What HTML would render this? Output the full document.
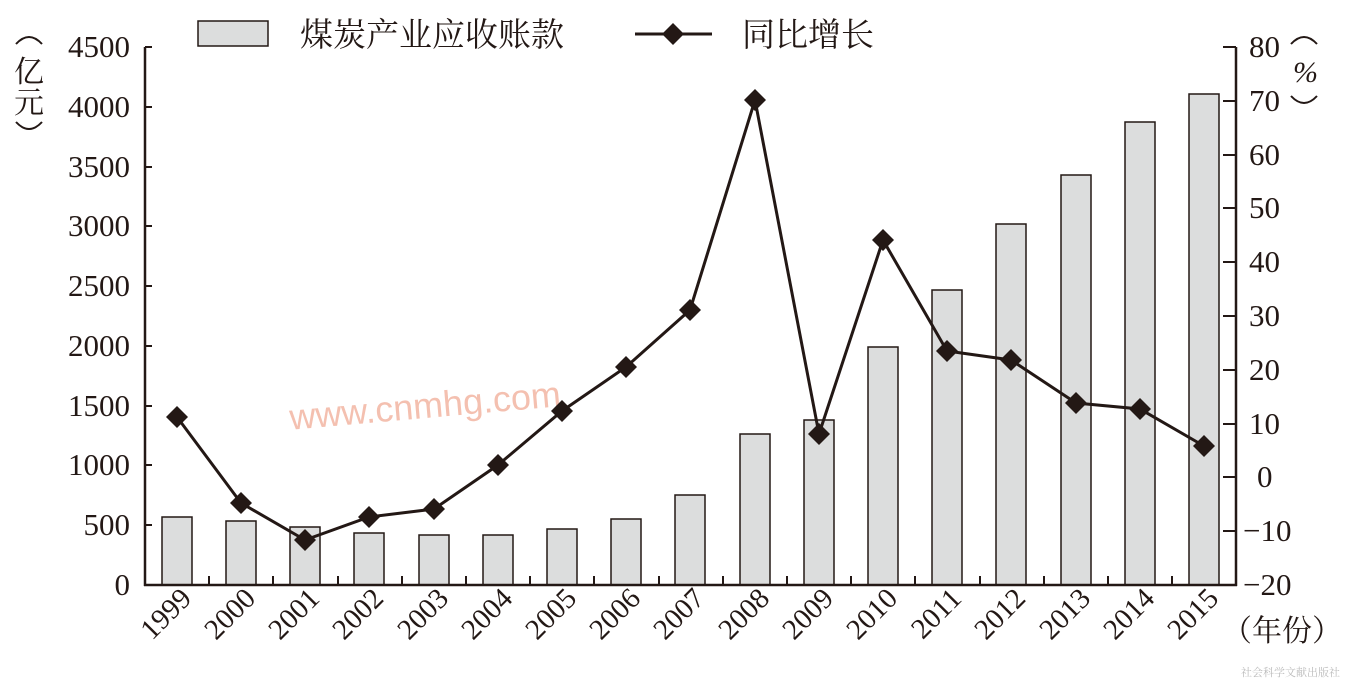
<!DOCTYPE html>
<html><head><meta charset="utf-8"><style>
html,body{margin:0;padding:0;background:#fff;}
svg{display:block;}
text{font-family:"Liberation Serif","Noto Serif CJK SC",serif;fill:#231815;}
</style></head><body>
<svg width="1346" height="681" viewBox="0 0 1346 681" xmlns="http://www.w3.org/2000/svg">
<g id="bars" fill="#dcdddd" stroke="#231815" stroke-width="1.5">
<rect x="162" y="517" width="30" height="68"/>
<rect x="226" y="521" width="30" height="64"/>
<rect x="290" y="527" width="30" height="58"/>
<rect x="354" y="533" width="30" height="52"/>
<rect x="419" y="535" width="30" height="50"/>
<rect x="483" y="535" width="30" height="50"/>
<rect x="547" y="529" width="30" height="56"/>
<rect x="611" y="519" width="30" height="66"/>
<rect x="675" y="495" width="30" height="90"/>
<rect x="740" y="434" width="30" height="151"/>
<rect x="804" y="420" width="30" height="165"/>
<rect x="868" y="347" width="30" height="238"/>
<rect x="932" y="290" width="30" height="295"/>
<rect x="996" y="224" width="30" height="361"/>
<rect x="1061" y="175" width="30" height="410"/>
<rect x="1125" y="122" width="30" height="463"/>
<rect x="1189" y="94" width="30" height="491"/>
</g>
<text x="425" y="418" font-size="36" style="fill:#f4c0b0;font-family:'Liberation Sans',sans-serif" transform="rotate(-5 425 405)" text-anchor="middle">www.cnmhg.com</text>
<g stroke="#231815" stroke-width="2.5" fill="none">
<line x1="145" y1="47" x2="145" y2="586"/>
<line x1="1236" y1="47" x2="1236" y2="586"/>
<line x1="144" y1="585" x2="1237" y2="585"/>
</g>
<g stroke="#231815" stroke-width="2">
<line x1="145" y1="47" x2="152" y2="47"/><line x1="145" y1="107" x2="152" y2="107"/><line x1="145" y1="167" x2="152" y2="167"/><line x1="145" y1="226" x2="152" y2="226"/><line x1="145" y1="286" x2="152" y2="286"/><line x1="145" y1="346" x2="152" y2="346"/><line x1="145" y1="406" x2="152" y2="406"/><line x1="145" y1="465" x2="152" y2="465"/><line x1="145" y1="525" x2="152" y2="525"/>
<line x1="1223" y1="47" x2="1236" y2="47"/><line x1="1223" y1="101" x2="1236" y2="101"/><line x1="1223" y1="155" x2="1236" y2="155"/><line x1="1223" y1="208" x2="1236" y2="208"/><line x1="1223" y1="262" x2="1236" y2="262"/><line x1="1223" y1="316" x2="1236" y2="316"/><line x1="1223" y1="370" x2="1236" y2="370"/><line x1="1223" y1="424" x2="1236" y2="424"/><line x1="1223" y1="477" x2="1236" y2="477"/><line x1="1223" y1="531" x2="1236" y2="531"/>
<line x1="209" y1="585" x2="209" y2="576"/><line x1="273" y1="585" x2="273" y2="576"/><line x1="338" y1="585" x2="338" y2="576"/><line x1="402" y1="585" x2="402" y2="576"/><line x1="466" y1="585" x2="466" y2="576"/><line x1="530" y1="585" x2="530" y2="576"/><line x1="594" y1="585" x2="594" y2="576"/><line x1="659" y1="585" x2="659" y2="576"/><line x1="723" y1="585" x2="723" y2="576"/><line x1="787" y1="585" x2="787" y2="576"/><line x1="851" y1="585" x2="851" y2="576"/><line x1="915" y1="585" x2="915" y2="576"/><line x1="980" y1="585" x2="980" y2="576"/><line x1="1044" y1="585" x2="1044" y2="576"/><line x1="1108" y1="585" x2="1108" y2="576"/><line x1="1172" y1="585" x2="1172" y2="576"/>
</g>
<polyline fill="none" stroke="#231815" stroke-width="3" points="177,417 241,503 305,540 369,517 434,509 498,465 562,411 626,367 690,310 755,100 819,434 883,240 947,351 1011,360 1076,403 1140,409 1204,446"/>
<g fill="#231815">
<path d="M177,406l11,11l-11,11l-11,-11z"/><path d="M241,492l11,11l-11,11l-11,-11z"/><path d="M305,529l11,11l-11,11l-11,-11z"/><path d="M369,506l11,11l-11,11l-11,-11z"/><path d="M434,498l11,11l-11,11l-11,-11z"/><path d="M498,454l11,11l-11,11l-11,-11z"/><path d="M562,400l11,11l-11,11l-11,-11z"/><path d="M626,356l11,11l-11,11l-11,-11z"/><path d="M690,299l11,11l-11,11l-11,-11z"/><path d="M755,89l11,11l-11,11l-11,-11z"/><path d="M819,423l11,11l-11,11l-11,-11z"/><path d="M883,229l11,11l-11,11l-11,-11z"/><path d="M947,340l11,11l-11,11l-11,-11z"/><path d="M1011,349l11,11l-11,11l-11,-11z"/><path d="M1076,392l11,11l-11,11l-11,-11z"/><path d="M1140,398l11,11l-11,11l-11,-11z"/><path d="M1204,435l11,11l-11,11l-11,-11z"/>
</g>
<g font-size="31" text-anchor="end">
<text x="130" y="57">4500</text><text x="130" y="117">4000</text><text x="130" y="177">3500</text><text x="130" y="236">3000</text><text x="130" y="296">2500</text><text x="130" y="356">2000</text><text x="130" y="416">1500</text><text x="130" y="475">1000</text><text x="130" y="535">500</text><text x="130" y="595">0</text>
</g>
<g font-size="31" text-anchor="start">
<text x="1249" y="57">80</text><text x="1249" y="111">70</text><text x="1249" y="165">60</text><text x="1249" y="218">50</text><text x="1249" y="272">40</text><text x="1249" y="326">30</text><text x="1249" y="380">20</text><text x="1249" y="434">10</text><text x="1257" y="487">0</text><text x="1243" y="541">−10</text><text x="1243" y="595">−20</text>
</g>
<g font-size="29" text-anchor="end">
<text transform="translate(193,600) rotate(-45)">1999</text><text transform="translate(257,600) rotate(-45)">2000</text><text transform="translate(321,600) rotate(-45)">2001</text><text transform="translate(385,600) rotate(-45)">2002</text><text transform="translate(450,600) rotate(-45)">2003</text><text transform="translate(514,600) rotate(-45)">2004</text><text transform="translate(578,600) rotate(-45)">2005</text><text transform="translate(642,600) rotate(-45)">2006</text><text transform="translate(706,600) rotate(-45)">2007</text><text transform="translate(771,600) rotate(-45)">2008</text><text transform="translate(835,600) rotate(-45)">2009</text><text transform="translate(899,600) rotate(-45)">2010</text><text transform="translate(963,600) rotate(-45)">2011</text><text transform="translate(1027,600) rotate(-45)">2012</text><text transform="translate(1092,600) rotate(-45)">2013</text><text transform="translate(1156,600) rotate(-45)">2014</text><text transform="translate(1220,600) rotate(-45)">2015</text>
</g>
<g fill="none" stroke="#231815" stroke-width="2">
<path d="M16,44 Q29,30 42,44"/><path d="M16,122 Q29,136 42,122"/>
<path d="M1291,44 Q1304,30 1317,44"/><path d="M1291,96 Q1304,110 1317,96"/>
</g>
<g font-size="30">
<text x="1222" y="641">（年份）</text>
<text x="14" y="82">亿</text><text x="14" y="113">元</text>
<text x="1293" y="82" font-style="italic">%</text>
</g>
<g font-size="33">
<text x="300" y="46">煤炭产业应收账款</text>
<text x="742" y="46">同比增长</text>
</g>
<rect x="198" y="21" width="70" height="25" fill="#dcdddd" stroke="#231815" stroke-width="1.5"/>
<line x1="635" y1="34" x2="712" y2="34" stroke="#231815" stroke-width="3"/>
<path d="M673,23l11,11l-11,11l-11,-11z" fill="#231815"/>
<text x="1340" y="676" font-size="11" text-anchor="end" style="fill:#bbb">社会科学文献出版社</text>
</svg>
</body></html>
